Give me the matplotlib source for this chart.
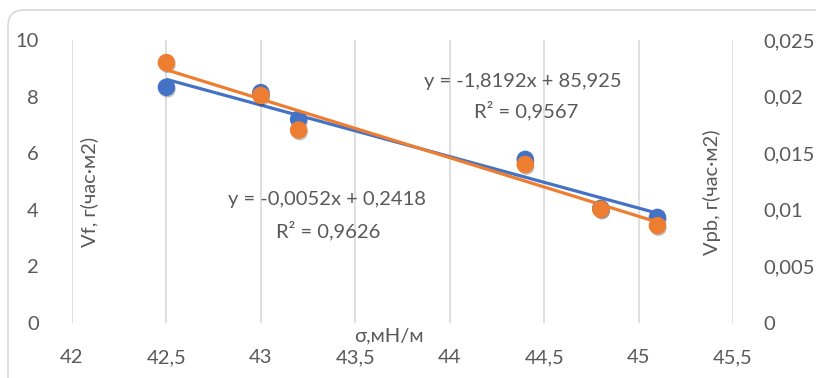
import numpy as np
import matplotlib.pyplot as plt
import matplotlib.patheffects as pe
from matplotlib.patches import FancyBboxPatch
from matplotlib.transforms import IdentityTransform
from matplotlib.ticker import FuncFormatter

plt.rcParams['font.family'] = ['Lato', 'DejaVu Sans']

# surface tension, mN/m
sigma = [42.5, 43.0, 43.2, 44.4, 44.8, 45.1]
vf = [8.33, 8.14, 7.2, 5.78, 4.05, 3.73]              # left axis
vpb = [0.0230, 0.0201, 0.01705, 0.0140, 0.01005, 0.0086]  # right axis

vf_fit = (-1.8192, 85.925)
vf_text = ['y = -1,8192x + 85,925', 'R² = 0,9567']
vpb_text = ['y = -0,0052x + 0,2418', 'R² = 0,9626']

W, H = 816, 378
blue = '#4472C4'
orange = '#ED7D31'
grey = '#595959'
fs = 14.5

def comma(v, pos):
    s = ('%g' % v)
    return s.replace('.', ',')

fig = plt.figure(figsize=(W / 100, H / 100), dpi=100)
ax = fig.add_axes([72 / W, (H - 323) / H, (733 - 72) / W, (323 - 40) / H])
ax2 = ax.twinx()

shadow = [pe.SimplePatchShadow(offset=(0.8, -1.6), shadow_rgbFace='black', alpha=0.25), pe.Normal()]

ax.scatter(sigma, vf, s=135, color=blue, zorder=3, path_effects=shadow)
xs = np.array([sigma[0], sigma[-1]])
ax.plot(xs, vf_fit[0] * xs + vf_fit[1], color=blue, lw=2.3, zorder=4,
        solid_capstyle='butt')

ax2.scatter(sigma, vpb, s=135, color=orange, zorder=3, path_effects=shadow)
k, b = np.polyfit(sigma, vpb, 1)
ax2.plot(xs, k * xs + b, color=orange, lw=2.3, zorder=4, solid_capstyle='butt')

ax.set_xlim(42, 45.5)
ax.set_ylim(0, 10)
ax2.set_ylim(0, 0.025)
ax.set_xticks(np.arange(42, 45.51, 0.5))
ax.set_yticks(np.arange(0, 10.1, 2))
ax2.set_yticks(np.arange(0, 0.0251, 0.005))
ax.xaxis.set_major_formatter(FuncFormatter(comma))
ax2.yaxis.set_major_formatter(FuncFormatter(lambda v, p: '0' if v == 0 else ('%.3f' % v).rstrip('0').replace('.', ',')))

ax.grid(axis='x', color='#D9D9D9', lw=1.2)
ax.set_axisbelow(True)
for a in (ax, ax2):
    for sp in a.spines.values():
        sp.set_visible(False)
    a.tick_params(length=0, labelsize=fs, labelcolor=grey)
ax.tick_params(axis='x', pad=19)
ax.tick_params(axis='y', pad=24)
ax2.tick_params(axis='y', pad=22)

def px(x, y):
    return x / W, 1 - y / H

fig.text(*px(89, 192), 'Vf, г(час·м2)', rotation=90, ha='center', va='center',
         fontsize=fs, color=grey)
fig.text(*px(712, 192), 'Vpb, г(час·м2)', rotation=90, ha='center', va='center',
         fontsize=fs, color=grey)
fig.text(*px(389, 336), 'σ,мН/м', ha='center', va='center', fontsize=fs, color=grey)

fig.text(*px(523, 81), vf_text[0], ha='center', va='center', fontsize=fs, color=grey)
fig.text(*px(526, 111), vf_text[1], ha='center', va='center', fontsize=fs, color=grey)
fig.text(*px(327, 200), vpb_text[0], ha='center', va='center', fontsize=fs, color=grey)
fig.text(*px(328, 231), vpb_text[1], ha='center', va='center', fontsize=fs, color=grey)

# chart area frame
fig.patches.append(FancyBboxPatch((8, -30), 840, H - 10 + 30,
                                  boxstyle='round,pad=0,rounding_size=16',
                                  transform=IdentityTransform(), fc='none',
                                  ec='#D9D9D9', lw=1.2))

fig.savefig('out.png', dpi=100)
